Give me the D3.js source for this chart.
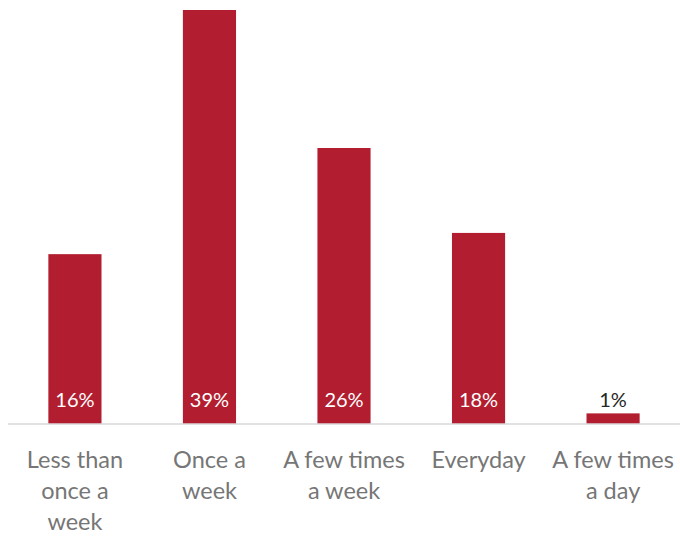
<!DOCTYPE html>
<html>
<head>
<meta charset="utf-8">
<script src="https://cdn.jsdelivr.net/npm/d3@7"></script>
<style>
  html, body { margin: 0; padding: 0; background: #fff; }
  svg { display: block; }
  text { font-family: Lato, "Open Sans", sans-serif; }
</style>
</head>
<body>
<svg id="chart" width="680" height="536"></svg>
<script>
// Frequency categories (line breaks mark the wrapped axis labels)
const categories = [
  "Less than\nonce a\nweek",
  "Once a\nweek",
  "A few times\na week",
  "Everyday",
  "A few times\na day"
];
// Share of respondents, percent
const values = [16, 39, 26, 18, 1];

const width = 680, height = 536;
const margin = { left: 8, right: 0, top: 10, baseline: 424 };
const barColor = "#B21E30";

const svg = d3.select("#chart");

const x = d3.scaleBand()
  .domain(categories)
  .range([margin.left, width - margin.right])
  .paddingInner(0.605)
  .paddingOuter(0.3);

const y = d3.scaleLinear()
  .domain([0, d3.max(values)])
  .range([margin.baseline, margin.top]);

const data = categories.map((c, i) => ({ cat: c, value: values[i] }));

// Bars
svg.append("g")
  .selectAll("rect")
  .data(data)
  .join("rect")
  .attr("x", d => x(d.cat))
  .attr("width", x.bandwidth())
  .attr("y", d => y(d.value))
  .attr("height", d => y(0) - y(d.value))
  .attr("fill", barColor);

// Baseline axis
const axis = svg.append("g")
  .attr("transform", `translate(0,${margin.baseline})`)
  .call(d3.axisBottom(x).tickSize(0).tickFormat(""));
axis.select(".domain")
  .attr("stroke", "#d9d9d9")
  .attr("stroke-width", 1.5)
  .attr("d", `M${margin.left},0H${width}`);

// Category labels, wrapped over several lines
const labels = svg.append("g")
  .selectAll("text")
  .data(data)
  .join("text")
  .attr("text-anchor", "middle")
  .attr("fill", "#767676")
  .attr("font-size", 23.5)
  .attr("transform", d => `translate(${x(d.cat) + x.bandwidth() / 2},468)`);
labels.selectAll("tspan")
  .data(d => d.cat.split("\n"))
  .join("tspan")
  .attr("x", 0)
  .attr("y", (l, i) => i * 31)
  .text(l => l);

// Value labels near the bar base
svg.append("g")
  .selectAll("text")
  .data(data)
  .join("text")
  .attr("x", d => x(d.cat) + x.bandwidth() / 2)
  .attr("y", 407)
  .attr("text-anchor", "middle")
  .attr("font-size", 20)
  .attr("fill", d => (y(0) - y(d.value)) > 24 ? "#ffffff" : "#262626")
  .text(d => d.value + "%");
</script>
</body>
</html>
